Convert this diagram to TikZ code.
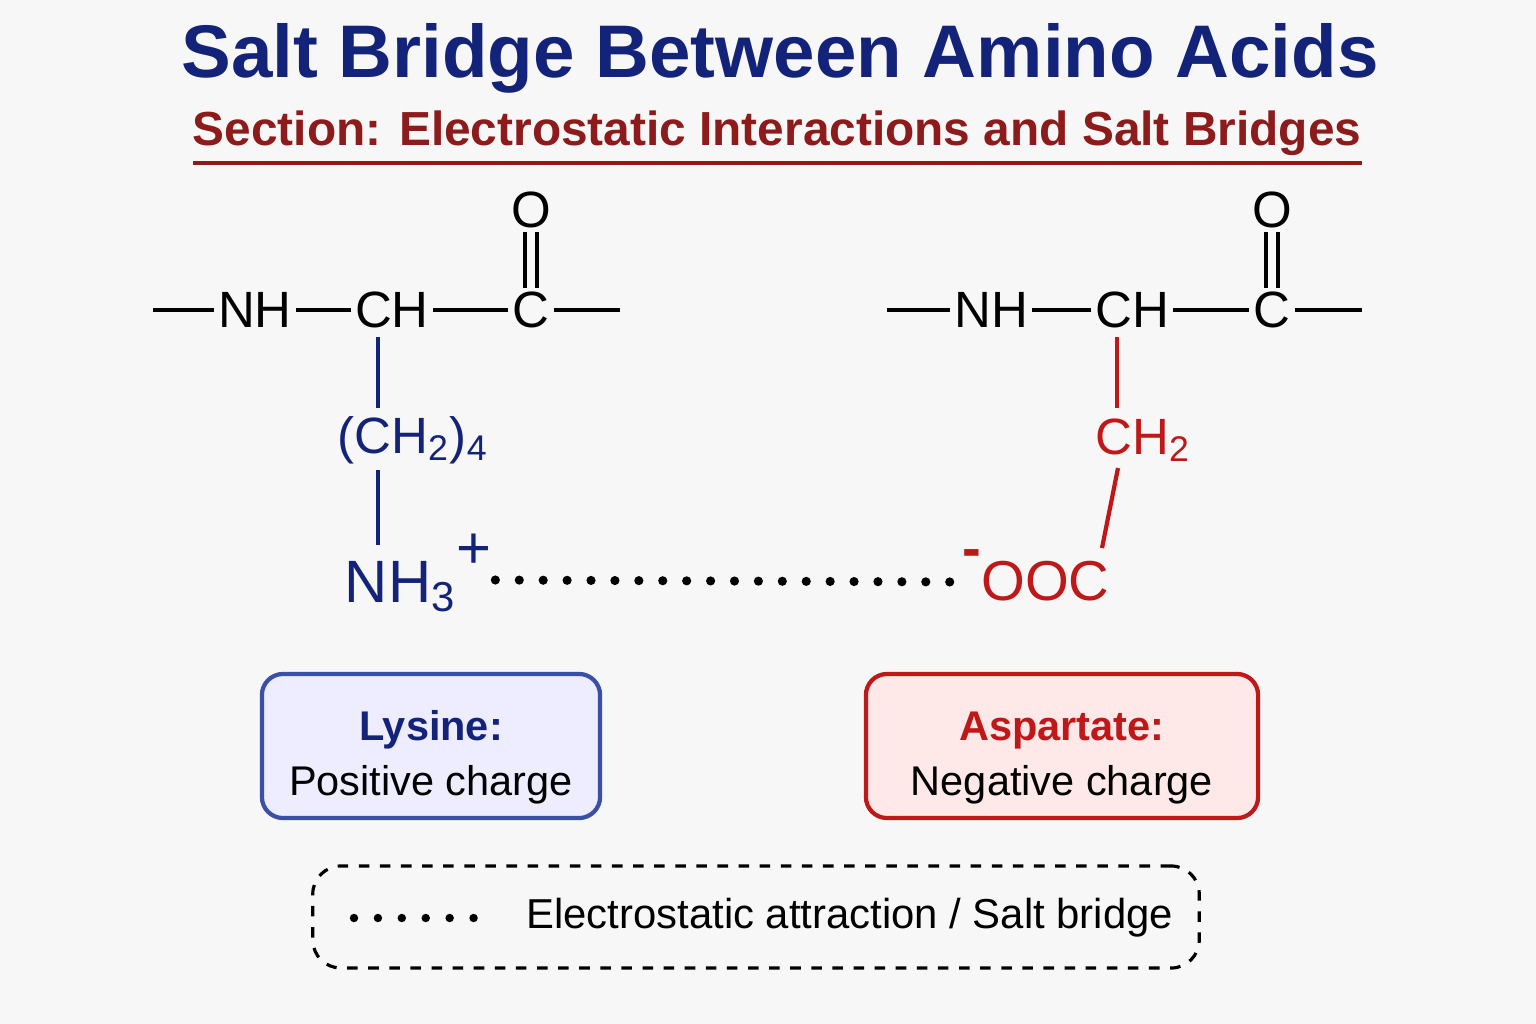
\documentclass[tikz,border=0pt]{standalone}
\usepackage{fontspec}
\setmainfont{Liberation Sans}
\usetikzlibrary{positioning}
\definecolor{navy}{HTML}{14237A}
\definecolor{lysblue}{HTML}{3A4FA8}
\definecolor{aspred}{HTML}{C01818}
\definecolor{secred}{HTML}{8E1B1B}
\tikzset{
  atom/.style={inner sep=1pt, font=\fontsize{14.5}{14.5}\selectfont},
  bond/.style={line width=1.2pt},
  infobox/.style={rounded corners=6pt, line width=1.2pt, inner ysep=0pt, minimum width=3.38cm, minimum height=1.44cm, align=center, font=\fontsize{11.8}{15.5}\selectfont},
}
\begin{document}
\begin{tikzpicture}[x=0.01cm,y=-0.01cm]
\useasboundingbox[fill=white!97!black] (0,0) rectangle (1536,1024);

% Titles
  \node[font=\fontsize{21.2}{21.2}\selectfont\bfseries, text=navy] (title) at (780,58) {Salt Bridge Between Amino Acids};
  \node[font=\fontsize{13.6}{13.6}\selectfont\bfseries, text=secred] (sub) at (777,133) {Section: Electrostatic Interactions and Salt Bridges};
  \draw[secred, line width=1.3pt] (193,163) -- (1362,163);

% Lysine backbone
  \coordinate (la) at (153,310);
  \node[atom] (lnh) at (255,310) {NH};
  \node[atom] (lch) at (392,310) {CH};
  \node[atom] (lc) at (531,310) {C};
  \coordinate (lb) at (620,310);
  \node[atom] (lo) at (531,210) {O};
  \draw[bond] (la) -- (lnh);
  \draw[bond] (lnh) -- (lch);
  \draw[bond] (lch) -- (lc);
  \draw[bond] (lc) -- (lb);
  \draw[bond] ([xshift=-0.06cm]lo.south) -- ([xshift=-0.06cm]lc.north);
  \draw[bond] ([xshift=0.06cm]lo.south) -- ([xshift=0.06cm]lc.north);

% Lysine side chain
  \node[atom, text=navy] (lch2) at (413,440) {(CH\textsubscript{2})\textsubscript{4}};
  \node[atom, text=navy, font=\fontsize{17}{17}\selectfont] (nh3) at (418,573) {NH\textsubscript{3}\raisebox{1.1ex}{+}};
  \draw[bond, navy] (378,337) -- (378,408);
  \draw[bond, navy] (378,470) -- (378,545);

% Aspartate backbone
  \coordinate (ra) at (887,310);
  \node[atom] (rnh) at (991,310) {NH};
  \node[atom] (rch) at (1132,310) {CH};
  \node[atom] (rc) at (1272,310) {C};
  \coordinate (rb) at (1362,310);
  \node[atom] (ro) at (1272,210) {O};
  \draw[bond] (ra) -- (rnh);
  \draw[bond] (rnh) -- (rch);
  \draw[bond] (rch) -- (rc);
  \draw[bond] (rc) -- (rb);
  \draw[bond] ([xshift=-0.06cm]ro.south) -- ([xshift=-0.06cm]rc.north);
  \draw[bond] ([xshift=0.06cm]ro.south) -- ([xshift=0.06cm]rc.north);

% Aspartate side chain
  \node[atom, text=aspred] (rch2) at (1143,440) {CH\textsubscript{2}};
  \node[atom, text=aspred, font=\fontsize{16}{16}\selectfont] (ooc) at (1036,575) {\raisebox{1.1ex}{\textbf{-}}OOC};
  \draw[bond, aspred] (1117,337) -- (1117,408);
  \draw[bond, aspred] (1118,468) -- (1102,548);

% Salt bridge
  \draw[line width=2.6pt, line cap=round, dash pattern=on 0pt off 6.8pt] ([yshift=-0.07cm]nh3.east) -- ([yshift=-0.07cm]ooc.west);

% Boxes
  \node[infobox, draw=lysblue, fill=blue!7] (lys) at (431,746) {\rule{0pt}{2.4ex}{\bfseries\color{navy}Lysine:}\\Positive charge};
  \node[infobox, draw=aspred, fill=red!9, minimum width=3.92cm] (asp) at (1062,746) {\rule{0pt}{2.4ex}{\bfseries\color{aspred}Aspartate:}\\Negative charge};

% Legend
  \node[draw, dashed, rounded corners=8pt, line width=0.9pt, minimum width=8.86cm, minimum height=1.02cm] (leg) at (756,917) {};
  \coordinate (d1) at (354,918);
  \coordinate (d2) at (497,918);
  \draw[line width=2.4pt, line cap=round, dash pattern=on 0pt off 6.8pt] (d1) -- (d2);
  \node[anchor=west, font=\fontsize{11.9}{11.9}\selectfont] (legtxt) at (514,918) {Electrostatic attraction / Salt bridge};
\end{tikzpicture}
\end{document}
